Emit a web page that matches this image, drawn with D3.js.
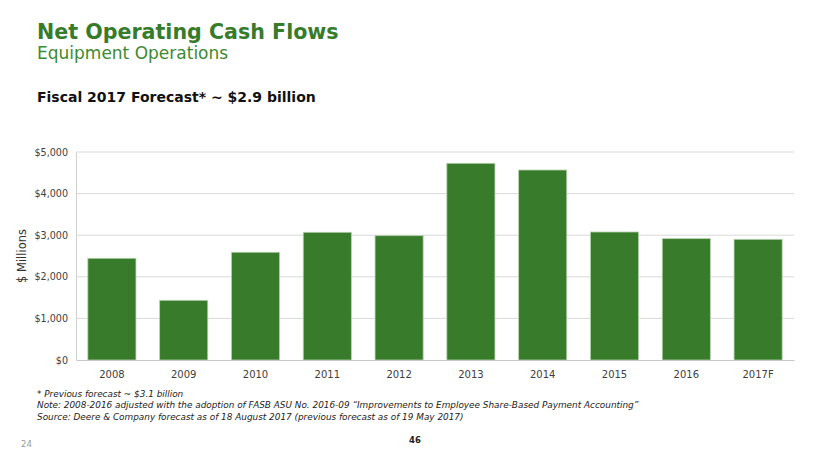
<!DOCTYPE html>
<html><head><meta charset="utf-8">
<script src="https://cdn.jsdelivr.net/npm/d3@7"></script>
<style>
body{margin:0;background:#fff;}
text{font-family:Verdana,"DejaVu Sans",sans-serif;}
</style></head>
<body>
<svg id="c" width="830" height="467"></svg>
<script>
const categories = ["2008","2009","2010","2011","2012","2013","2014","2015","2016","2017F"];
const values = [2445, 1435, 2590, 3070, 2988, 4728, 4567, 3077, 2917, 2901];
const yTicks = [0, 1000, 2000, 3000, 4000, 5000];
const footnotes = [
  "* Previous forecast ~ $3.1 billion",
  "Note: 2008-2016 adjusted with the adoption of FASB ASU No. 2016-09 \u201cImprovements to Employee Share-Based Payment Accounting\u201d",
  "Source: Deere & Company forecast as of 18 August 2017 (previous forecast as of 19 May 2017)"
];

const svg = d3.select("#c");
const green = "#387b2b";

svg.append("text").attr("x",37).attr("y",39).attr("fill","#367c2b")
  .attr("font-size",20.6).attr("font-weight","bold").text("Net Operating Cash Flows");
svg.append("text").attr("x",37).attr("y",59).attr("fill","#3d8a31")
  .attr("font-size",17).text("Equipment Operations");
svg.append("text").attr("x",37).attr("y",102).attr("fill","#111")
  .attr("font-size",14).attr("font-weight","bold").text("Fiscal 2017 Forecast* ~ $2.9 billion");

const x = d3.scaleBand().domain(categories).range([76,794]).paddingInner(0.33).paddingOuter(0.165);
const y = d3.scaleLinear().domain([0,5000]).range([360,152]);

// gridlines
svg.append("g").selectAll("line").data(yTicks.filter(d=>d>0)).join("line")
  .attr("x1",76).attr("x2",794).attr("y1",d=>y(d)).attr("y2",d=>y(d))
  .attr("stroke","#d9d9d9").attr("stroke-width",1);

// bars
svg.append("g").selectAll("rect").data(values).join("rect")
  .attr("x",(d,i)=>x(categories[i])).attr("width",x.bandwidth())
  .attr("y",d=>y(d)).attr("height",d=>y(0)-y(d))
  .attr("fill",green).attr("stroke","#b5d1ad").attr("stroke-width",0.8);

// y axis
const ya = svg.append("g").attr("transform","translate(76,0)")
  .call(d3.axisLeft(y).tickValues(yTicks).tickFormat(d=>"$"+d3.format(",")(d)).tickSize(0).tickPadding(8));
ya.select(".domain").attr("stroke","#d0d0d0");
ya.selectAll("text").attr("font-size",9.6).attr("fill","#404040").attr("font-family","Verdana, 'DejaVu Sans', sans-serif");

// x axis
const xa = svg.append("g").attr("transform","translate(0,360)")
  .call(d3.axisBottom(x).tickSize(0).tickPadding(11));
xa.select(".domain").attr("stroke","#c8c8c8");
xa.selectAll("text").attr("font-size",10).attr("fill","#404040").attr("font-family","Verdana, 'DejaVu Sans', sans-serif");

svg.append("text").attr("transform","translate(26,256) rotate(-90)").attr("text-anchor","middle")
  .attr("font-size",11.5).attr("fill","#333").text("$ Millions");

svg.append("g").selectAll("text").data(footnotes).join("text")
  .attr("x",37).attr("y",(d,i)=>397+i*11.3).attr("font-size",8.9).attr("font-style","italic")
  .attr("fill","#222").text(d=>d);

svg.append("text").attr("x",415).attr("y",443).attr("text-anchor","middle")
  .attr("font-size",8.5).attr("font-weight","bold").attr("fill","#222").text("46");
svg.append("text").attr("x",21).attr("y",447).attr("font-size",8.5).attr("fill","#999").text("24");
</script>
</body></html>
